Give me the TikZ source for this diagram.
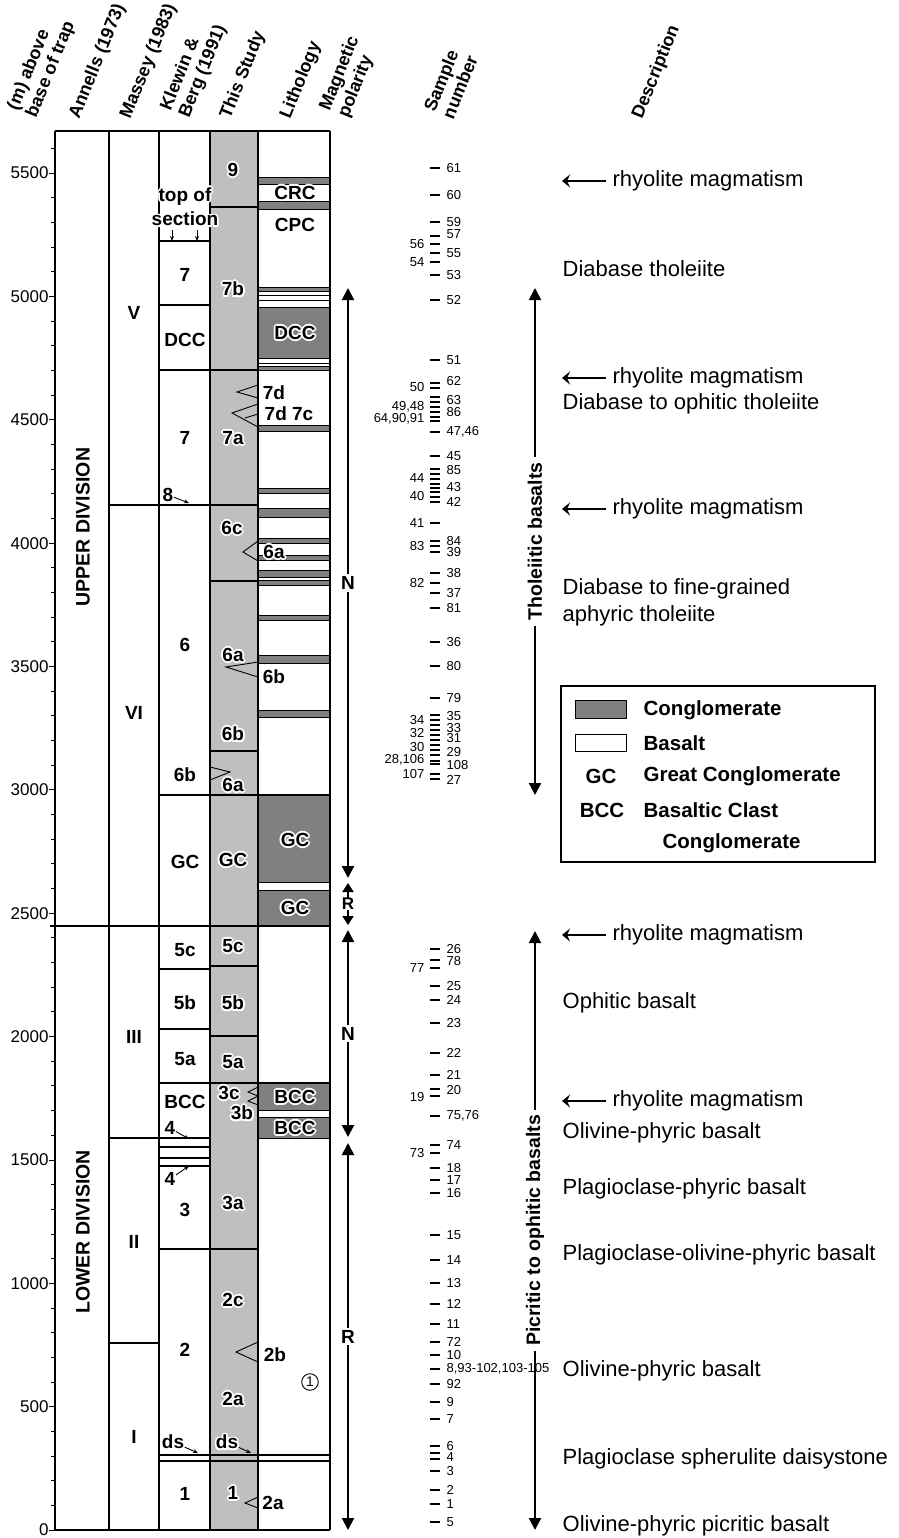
\documentclass[tikz,border=0pt]{standalone}
\usepackage{fontspec}
\setmainfont{Liberation Sans}
\usetikzlibrary{arrows.meta}
\definecolor{studygray}{gray}{0.75}
\definecolor{conglgray}{gray}{0.5}
% white outline round a label
\newcommand{\hl}[1]{{\color{white}\foreach \ha in {0,45,...,315}{\pgfmathsetlengthmacro\hx{1.8pt*cos(\ha)}\pgfmathsetlengthmacro\hy{1.8pt*sin(\ha)}\makebox[0pt][l]{\hspace*{\hx}\raisebox{\hy}{#1}}}}#1}

\begin{document}
\begin{tikzpicture}[x=1pt,y=-1pt,line width=1.3pt]
  \tikzset{
    lab/.style={font=\fontsize{19}{19}\selectfont\bfseries,inner sep=0pt},
    hdr/.style={font=\fontsize{18}{20}\selectfont\bfseries,rotate=68,anchor=south west,align=left,inner sep=0pt},
    ax/.style={font=\fontsize{17}{17}\selectfont,anchor=east,inner sep=0pt},
    smp/.style={font=\fontsize{13}{13}\selectfont,inner sep=0pt},
    dsc/.style={font=\fontsize{22}{27}\selectfont,anchor=west,align=left,inner sep=0pt},
    leg/.style={font=\fontsize{20.5}{20.5}\selectfont\bfseries,anchor=west,inner sep=0pt},
    cgl/.style={fill=conglgray,draw=black,line width=1pt},
    fine/.style={line width=0.9pt},
    pol/.style={line width=2pt,{Triangle[length=12pt,width=12pt]}-{Triangle[length=12pt,width=12pt]}},
    polshort/.style={line width=2pt,{Triangle[length=9pt,width=11pt]}-{Triangle[length=9pt,width=11pt]}},
    poltxt/.style={font=\fontsize{19}{19}\selectfont\bfseries,fill=white,inner sep=2pt},
    smallarr/.style={fine,-{Stealth[length=5pt,width=4pt]}},
    rarr/.style={line width=1.6pt,-{Stealth[length=8pt,width=13pt,inset=3pt]},shorten <=6pt},
  }
  \useasboundingbox (0,0) rectangle (898,1538);

  % headers
  \node[hdr] (hM) at (40,121) {(m) above\\base of trap};
  \node[hdr] (hA) at (83,122) {Annells (1973)};
  \node[hdr] (hMa) at (134,122) {Massey (1983)};
  \node[hdr] (hK) at (193,121) {Klewin \&\\Berg (1991)};
  \node[hdr] (hS) at (234,122) {This Study};
  \node[hdr] (hL) at (294,122) {Lithology};
  \node[hdr] (hP) at (352,121) {Magnetic\\polarity};
  \node[hdr] (hN) at (454,121) {Sample\\number};
  \node[hdr] (hD) at (646,122) {Description};

  % columns
  \fill[studygray] (210,131) rectangle (258,1530);
  \foreach \a/\b in {178/185,202/210,287/291,307/358,366/370,425/431,488/493,508/517,
    538/543,555/560,570/577,580/585,615/620,655/663,710/717,795/882,890/926,1083/1110,1117/1138}
    \draw[cgl] (258,\a) rectangle (330,\b);
  \foreach \y in {295,300,363}
    \draw[fine] (258,\y) -- (330,\y);
  \foreach \x in {55,109,159,210,258,330}
    \draw (\x,131) -- (\x,1530);
  \draw (55,131) -- (330,131);
  \draw (55,1530) -- (330,1530);
  \draw (50,926) -- (330,926);
  \draw (109,505) -- (258,505);
  \draw (109,1138) -- (210,1138);
  \draw (109,1343) -- (159,1343);
  \foreach \y in {241,305,969,1029,1147,1158,1166}
    \draw (159,\y) -- (210,\y);
  \foreach \y in {370,1249}
    \draw (159,\y) -- (258,\y);
  \foreach \y in {795,1083,1455,1461}
    \draw (159,\y) -- (330,\y);
  \foreach \y in {207,581,751,966,1036}
    \draw (210,\y) -- (258,\y);

  % depth axis
  \foreach \m in {100,200,...,5600}
    \draw[fine] (55,{1530-0.2467*\m}) -- ++(-4,0);
  \foreach \m in {0,500,...,5500}
    \draw[fine] (55,{1530-0.2467*\m}) -- ++(-6,0) node[ax] (t\m) {\m};

  % division names
  \node[lab,rotate=90,font=\fontsize{19.5}{19.5}\selectfont\bfseries] (up) at (83,527) {UPPER DIVISION};
  \node[lab,rotate=90,font=\fontsize{19.5}{19.5}\selectfont\bfseries] (lo) at (83,1232) {LOWER DIVISION};
  \foreach \t/\y in {V/313,VI/713,III/1037,II/1242,I/1437}
    \node[lab] (m\t) at (134,\y) {\t};

  % Klewin & Berg
  \node[lab,align=center] (top) at (185,207) {\hl{top of}\\[2pt]\hl{section}};
  \coordinate (tsa) at (172,241);
  \coordinate (tsb) at (197,241);
  \draw[smallarr] (172,230) -- (tsa);
  \draw[smallarr] (197,230) -- (tsb);
  \foreach \t/\y [count=\i] in {7/275,DCC/340,7/438,6/645,6b/775,GC/862,5c/950,5b/1003,5a/1059,BCC/1102,3/1210,2/1350,1/1494}
    \node[lab] (k\i) at (185,\y) {\t};
  \node[lab] (k8) at (168,495) {8};
  \coordinate (k8a) at (189,503);
  \draw[smallarr] (k8) -- (k8a);
  \node[lab] (k4a) at (170,1128) {4};
  \coordinate (k4b) at (189,1139);
  \draw[smallarr] (k4a) -- (k4b);
  \node[lab] (k4c) at (170,1179) {4};
  \coordinate (k4d) at (189,1166);
  \draw[smallarr] (k4c) -- (k4d);
  \node[lab] (kds) at (173,1442) {ds};
  \coordinate (kdsa) at (198,1453);
  \draw[smallarr] (kds) -- (kdsa);

  % this study
  \foreach \t/\x/\y [count=\i] in {9/233/170,7b/233/289,7a/233/438,6c/232/528,6a/233/655,6b/233/734,6a/233/785,
    GC/233/860,5c/233/946,5b/233/1003,5a/233/1062,3c/229/1093,3b/242/1113,3a/233/1203,2c/233/1300,2a/233/1399,1/233/1493}
    \node[lab] (s\i) at (\x,\y) {\hl{\t}};
  \node[lab] (sds) at (227,1442) {\hl{ds}};
  \coordinate (sdsa) at (251,1453);
  \draw[smallarr] (sds) -- (sdsa);
  \draw[fine] (258,385) -- (237,392) -- (258,398);
  \draw[fine] (258,404) -- (232,413) -- (258,427);
  \draw[fine] (245,418) -- (258,414);
  \draw[fine] (258,541) -- (243,552) -- (258,561);
  \draw[fine] (258,662) -- (226,667) -- (258,677);
  \draw[fine] (210,767) -- (230,772) -- (210,780);
  \draw[fine] (258,1087) -- (248,1092) -- (258,1096) -- (248,1101) -- (258,1105);
  \draw[fine] (258,1342) -- (236,1352) -- (258,1362);
  \draw[fine] (258,1497) -- (245,1503) -- (258,1508);
  \foreach \t/\x/\y [count=\i] in {7d/274/393,7d 7c/289/414,6a/274/552,6b/274/677,2b/275/1355,2a/273/1503}
    \node[lab] (w\i) at (\x,\y) {\hl{\t}};

  % lithology
  \foreach \t/\y [count=\i] in {CRC/193,CPC/225,DCC/333,GC/840,GC/908,BCC/1097,BCC/1128}
    \node[lab] (l\i) at (295,\y) {\hl{\t}};
  \node[draw,circle,fine,inner sep=1.5pt,font=\fontsize{14}{14}\selectfont] (one) at (310,1382) {1};

  % magnetic polarity
  \coordinate (n1t) at (348,288);
  \coordinate (n1b) at (348,878);
  \coordinate (r1t) at (348,883);
  \coordinate (r1b) at (348,925);
  \coordinate (n2t) at (348,930);
  \coordinate (n2b) at (348,1137);
  \coordinate (r2t) at (348,1143);
  \coordinate (r2b) at (348,1530);
  \draw[pol] (n1t) -- node[poltxt] (pn1) {N} (n1b);
  \draw[polshort] (r1t) -- node[poltxt,inner sep=0pt,font=\fontsize{17}{17}\selectfont\bfseries] (pr1) {R} (r1b);
  \draw[pol] (n2t) -- node[poltxt] (pn2) {N} (n2b);
  \draw[pol] (r2t) -- node[poltxt] (pr2) {R} (r2b);

  % sample numbers
  \foreach \y in {168,195,222,236,244,253,262,275,300,360,383,388,397,402,407,412,417,421,432,456,
    469,474,479,484,488,492,497,502,523,541,546,552,573,583,593,608,642,666,698,
    715,720,725,730,735,740,745,750,755,761,764,774,779,949,960,968,986,1000,1023,1053,1075,
    1089,1096,1116,1145,1153,1168,1180,1193,1235,1260,1283,1304,1324,1342,1355,1369,1384,
    1402,1419,1446,1453,1459,1471,1490,1504,1522}
    \draw[line width=1.6pt] (430,\y) -- (440,\y);
  \foreach \y/\t in {168/61,195/60,222/59,234/57,253/55,275/53,300/52,360/51,381/62,400/63,412/86,
    432/{47,46},456/45,470/85,487/43,502/42,541/84,552/39,573/38,593/37,608/81,642/36,666/80,698/79,
    716/35,728/33,738/31,752/29,765/108,780/27,949/26,961/78,986/25,1000/24,1023/23,1053/22,1075/21,
    1090/20,1116/{75,76},1145/74,1168/18,1180/17,1193/16,1235/15,1260/14,1283/13,1304/12,1324/11,
    1342/72,1355/10,1369/{8,93-102,103-105},1384/92,1402/9,1419/7,1446/6,1457/4,1471/3,1490/2,1504/1,1522/5}
    \node[smp,anchor=west] at (446,\y) {\t};
  \foreach \y/\t in {244/56,262/54,387/50,407/{49,48},419/{64,90,91},478/44,496/40,523/41,546/83,
    583/82,720/34,733/32,747/30,760/{28,106},774/107,968/77,1097/19,1153/73}
    \node[smp,anchor=east] at (425,\y) {\t};

  % basalt groups
  \coordinate (tht) at (535,288);
  \coordinate (thb) at (535,795);
  \coordinate (pct) at (535,931);
  \coordinate (pcb) at (535,1530);
  \draw[pol] (tht) -- node[lab,rotate=90,fill=white,inner sep=5pt,font=\fontsize{19.5}{19.5}\selectfont\bfseries] (tho) {Tholeiitic basalts} (thb);
  \draw[pol] (pct) -- node[lab,rotate=90,fill=white,inner sep=5pt,font=\fontsize{19.5}{19.5}\selectfont\bfseries] (pic) {Picritic to ophitic basalts} (pcb);

  % description
  \foreach \y [count=\i] in {181,378,509,935,1101} {
    \node[dsc] (rh\i) at (612,\y) {rhyolite magmatism};
    \coordinate (rha\i) at (562,\y);
    \draw[rarr] (rh\i) -- (rha\i);
  }
  \node[dsc] (d1) at (562,269) {Diabase tholeiite};
  \node[dsc] (d2) at (562,404) {Diabase to ophitic tholeiite};
  \node[dsc] (d3) at (562,602) {Diabase to fine-grained\\aphyric tholeiite};
  \node[dsc] (d4) at (562,1003) {Ophitic basalt};
  \node[dsc] (d5) at (562,1133) {Olivine-phyric basalt};
  \node[dsc] (d6) at (562,1189) {Plagioclase-phyric basalt};
  \node[dsc] (d7) at (562,1255) {Plagioclase-olivine-phyric basalt};
  \node[dsc] (d8) at (562,1371) {Olivine-phyric basalt};
  \node[dsc] (d9) at (562,1459) {Plagioclase spherulite daisystone};
  \node[dsc] (d10) at (562,1526) {Olivine-phyric picritic basalt};

  % legend
  \draw[line width=1.5pt] (561,686) rectangle (875,862);
  \draw[cgl] (575,700) rectangle (626,718);
  \draw[line width=1pt] (575,734) rectangle (626,751);
  \node[leg] (lg1) at (643,710) {Conglomerate};
  \node[leg] (lg2) at (643,743) {Basalt};
  \node[leg,anchor=center] (lg3) at (601,776) {GC};
  \node[leg] (lg4) at (643,776) {Great Conglomerate};
  \node[leg,anchor=center] (lg5) at (602,810) {BCC};
  \node[leg] (lg6) at (643,810) {Basaltic Clast};
  \node[leg] (lg7) at (662,843) {Conglomerate};
\end{tikzpicture}
\end{document}
